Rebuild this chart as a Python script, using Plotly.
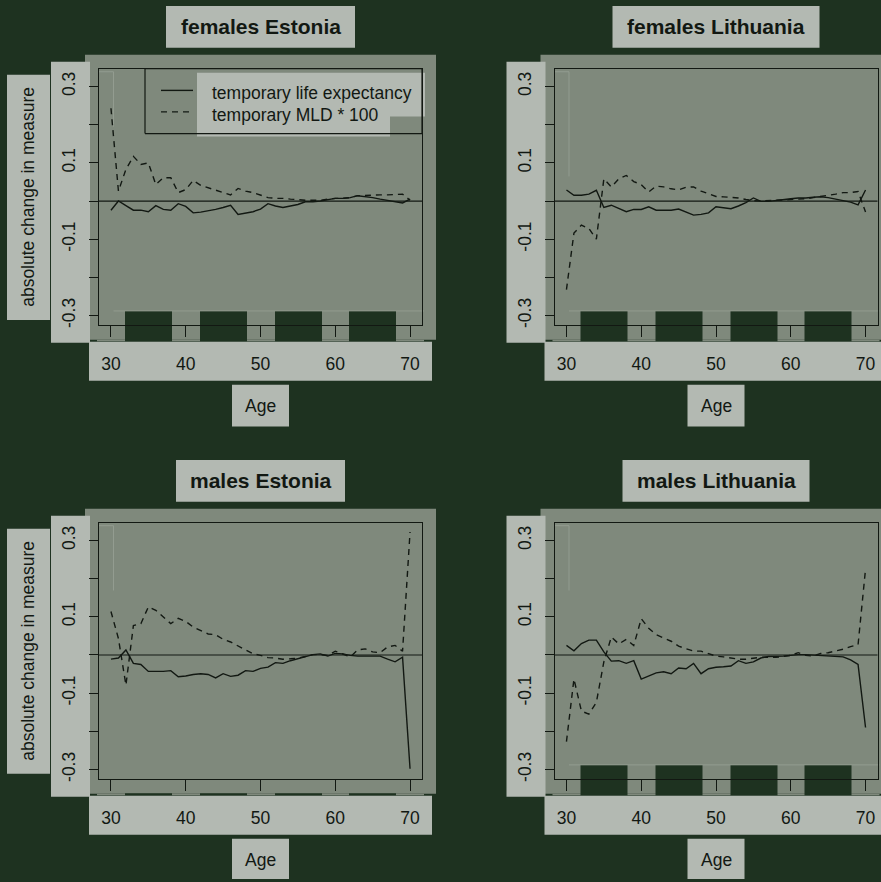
import plotly.graph_objects as go

W, H = 881, 882

# ---- data -------------------------------------------------------------
ages = list(range(30, 71))

x_ticks = [30, 40, 50, 60, 70]
y_ticks = [-0.3, -0.2, -0.1, 0.0, 0.1, 0.2, 0.3]
y_tick_text = ["-0.3", "", "-0.1", "", "0.1", "", "0.3"]

panel_titles = ["females Estonia", "females Lithuania", "males Estonia", "males Lithuania"]
legend_labels = ["temporary life expectancy", "temporary MLD * 100"]

f_est_le = [-0.024, 0.000, -0.012, -0.024, -0.024, -0.028, -0.012, -0.022, -0.024, -0.007,
            -0.014, -0.031, -0.029, -0.026, -0.022, -0.017, -0.011, -0.035, -0.031, -0.028,
            -0.021, -0.007, -0.013, -0.017, -0.013, -0.009, -0.002, -0.002, 0.000, 0.003,
            0.007, 0.007, 0.009, 0.014, 0.012, 0.009, 0.005, 0.002, -0.002, -0.005, 0.005]
f_est_mld = [0.243, 0.026, 0.083, 0.117, 0.096, 0.100, 0.043, 0.061, 0.061, 0.022,
             0.030, 0.054, 0.041, 0.035, 0.030, 0.024, 0.016, 0.033, 0.026, 0.022,
             0.015, 0.009, 0.007, 0.007, 0.005, 0.003, 0.002, 0.002, 0.002, 0.005,
             0.007, 0.007, 0.009, 0.014, 0.015, 0.016, 0.016, 0.016, 0.017, 0.018, 0.002]

f_lit_le = [0.029, 0.015, 0.015, 0.018, 0.028, -0.017, -0.011, -0.020, -0.028, -0.022,
            -0.022, -0.015, -0.024, -0.024, -0.024, -0.021, -0.030, -0.037, -0.035, -0.031,
            -0.015, -0.017, -0.020, -0.013, -0.004, 0.008, -0.001, -0.001, 0.002, 0.004,
            0.006, 0.008, 0.008, 0.010, 0.011, 0.009, 0.004, 0.001, -0.003, -0.010, 0.029]
f_lit_mld = [-0.232, -0.084, -0.063, -0.072, -0.100, 0.058, 0.037, 0.058, 0.067, 0.051,
             0.043, 0.024, 0.039, 0.037, 0.032, 0.029, 0.036, 0.037, 0.026, 0.020,
             0.012, 0.011, 0.010, 0.008, 0.004, 0.001, 0.000, 0.001, 0.002, 0.003,
             0.003, 0.004, 0.006, 0.009, 0.011, 0.015, 0.018, 0.022, 0.022, 0.025, -0.029]

m_est_le = [-0.011, -0.008, 0.013, -0.022, -0.025, -0.043, -0.043, -0.043, -0.041, -0.057,
            -0.055, -0.051, -0.049, -0.051, -0.060, -0.049, -0.056, -0.053, -0.041, -0.043,
            -0.035, -0.032, -0.020, -0.022, -0.015, -0.010, -0.003, 0.001, 0.003, -0.003,
            0.004, 0.003, -0.001, -0.003, -0.003, -0.003, -0.003, -0.011, -0.018, -0.006, -0.298]
m_est_mld = [0.114, 0.043, -0.079, 0.077, 0.082, 0.126, 0.117, 0.099, 0.082, 0.096,
             0.088, 0.073, 0.064, 0.055, 0.053, 0.041, 0.034, 0.023, 0.012, 0.003,
             -0.001, -0.007, -0.008, -0.011, -0.010, -0.008, -0.004, 0.001, 0.001, -0.001,
             0.010, 0.003, -0.005, 0.013, 0.016, 0.008, 0.006, 0.021, 0.025, 0.010, 0.322]

m_lit_le = [0.025, 0.011, 0.030, 0.039, 0.039, 0.008, -0.016, -0.015, -0.022, -0.015,
            -0.063, -0.055, -0.047, -0.044, -0.049, -0.034, -0.036, -0.022, -0.049, -0.036,
            -0.032, -0.031, -0.029, -0.015, -0.022, -0.018, -0.008, -0.004, -0.004, -0.003,
            -0.001, 0.001, 0.001, 0.000, -0.001, -0.003, -0.004, -0.005, -0.013, -0.025, -0.190]
m_lit_mld = [-0.227, -0.063, -0.147, -0.155, -0.124, -0.018, 0.047, 0.029, 0.041, 0.025,
             0.095, 0.070, 0.053, 0.044, 0.036, 0.023, 0.016, 0.010, 0.010, 0.003,
             -0.003, -0.005, -0.008, -0.011, -0.011, -0.008, -0.006, -0.006, -0.006, -0.004,
             -0.001, 0.006, -0.001, -0.003, 0.004, 0.006, 0.010, 0.015, 0.022, 0.027, 0.225]

le_series = [f_est_le, f_lit_le, m_est_le, m_lit_le]
mld_series = [f_est_mld, f_lit_mld, m_est_mld, m_lit_mld]

# ---- styling ------------------------------------------------------------
BG = "#1e3220"
MID = "#7f897c"
LIGHT = "#b3b9b2"
FAINT = "#98a195"
INK = "#121812"
FONT = "Liberation Sans, Arial, Helvetica, sans-serif"

X_RANGE = [28.4, 71.6]
Y_RANGE = [-0.3245, 0.3465]

# pixel layout of a single panel (top-left); other panels are shifted copies
OFF = 455.5
FRAME = (99, 69, 422, 326)           # x0, y0, x1, y1


def px_x(v):
    return v / W


def px_y(v):
    return 1 - v / H


def rect(x0, y0, x1, y1, color):
    x1 = min(x1, W)
    y1 = min(y1, H)
    return dict(type="rect", xref="paper", yref="paper", layer="below",
                x0=px_x(x0), x1=px_x(x1), y0=px_y(y1), y1=px_y(y0),
                fillcolor=color, line_width=0)


def seg(x0, y0, x1, y1, color, width=1.0, dash="solid"):
    return dict(type="line", xref="paper", yref="paper", layer="below",
                x0=px_x(x0), x1=px_x(x1), y0=px_y(y0), y1=px_y(y1),
                line=dict(color=color, width=width, dash=dash))


def text(x, y, s, size=17.5, bold=False, angle=0, xanchor="center"):
    return dict(xref="paper", yref="paper", x=px_x(x), y=px_y(y), text=f"<b>{s}</b>" if bold else s,
                showarrow=False, textangle=angle, xanchor=xanchor, yanchor="middle",
                font=dict(family=FONT, size=size, color=INK))


fig = go.Figure()
shapes = []
annotations = []

title_half = [94.5, 103.5, 84.5, 93.5]

for i in range(4):
    col, row = i % 2, i // 2
    dx, dy = col * OFF, row * OFF
    fx0, fy0, fx1, fy1 = FRAME[0] + dx, FRAME[1] + dy, FRAME[2] + dx, FRAME[3] + dy
    cx = (fx0 + fx1) / 2

    # panel backdrop and label boxes
    shapes.append(rect(85 + dx, 55 + dy, 436 + dx, 341 + dy, MID))
    shapes.append(rect(97 + dx, 341 + dy, 424 + dx, 342.5 + dy, MID))
    shapes.append(rect(51 + dx, 62 + dy, 90 + dx, 344 + dy, LIGHT))
    shapes.append(rect(89 + dx, 343 + dy, 432 + dx, 382 + dy, LIGHT))
    shapes.append(rect(cx - 28.5, 386 + dy, cx + 28.5, 428 + dy, LIGHT))
    shapes.append(rect(cx - title_half[i], 6 + dy, cx + title_half[i], 48 + dy, LIGHT))
    if col == 0:
        shapes.append(rect(7, 75 + dy, 50, 321 + dy, LIGHT))

    # background showing through along the bottom of the panel
    strip_top = 312 if i != 2 else 340.5
    for bx in (125, 200, 275, 349):
        shapes.append(rect(bx + dx, strip_top + dy, bx + 47 + dx, 342.5 + dy, BG))

    # faint guide lines
    vlen = 127 if i == 0 else (177 if i == 1 else 137)
    shapes.append(seg(99 + dx, 72 + dy, 113.5 + dx, 72 + dy, FAINT, 0.8))
    shapes.append(seg(113.5 + dx, 72 + dy, 113.5 + dx, vlen + dy, FAINT, 0.8))
    if i != 2:
        shapes.append(seg(113.5 + dx, 312 + dy, 424 + dx, 312 + dy, FAINT, 0.8))

    # axes
    xa = "xaxis" if i == 0 else f"xaxis{i + 1}"
    ya = "yaxis" if i == 0 else f"yaxis{i + 1}"
    xr = "x" if i == 0 else f"x{i + 1}"
    yr = "y" if i == 0 else f"y{i + 1}"
    fig.update_layout(**{
        xa: dict(domain=[px_x(fx0), px_x(fx1)], range=X_RANGE, anchor=yr,
                 tickmode="array", tickvals=x_ticks, ticktext=[str(v) for v in x_ticks],
                 ticks="outside", ticklen=11, tickwidth=1, tickcolor=INK,
                 showline=True, mirror=True, linecolor=INK, linewidth=1,
                 showgrid=False, zeroline=False, ticklabelstandoff=12,
                 tickfont=dict(family=FONT, size=17.5, color=INK)),
        ya: dict(domain=[px_y(fy1), px_y(fy0)], range=Y_RANGE, anchor=xr,
                 tickmode="array", tickvals=y_ticks, ticktext=y_tick_text,
                 ticks="outside", ticklen=9, tickwidth=1, tickcolor=INK, tickangle=-90,
                 showline=True, mirror=True, linecolor=INK, linewidth=1,
                 showgrid=False, zeroline=False, ticklabelstandoff=7,
                 tickfont=dict(family=FONT, size=17.5, color=INK)),
    })

    # reference line at zero
    shapes.append(dict(type="line", xref=f"{xr} domain", yref=yr, x0=0, x1=1, y0=0, y1=0,
                       layer="above", line=dict(color=INK, width=1.2)))

    fig.add_trace(go.Scatter(x=ages, y=le_series[i], mode="lines", xaxis=xr, yaxis=yr,
                             line=dict(color=INK, width=1.4), showlegend=False,
                             name=legend_labels[0]))
    fig.add_trace(go.Scatter(x=ages, y=mld_series[i], mode="lines", xaxis=xr, yaxis=yr,
                             line=dict(color=INK, width=1.4, dash="6px,5px"), showlegend=False,
                             name=legend_labels[1]))

    annotations.append(text(cx, 27 + dy, panel_titles[i], size=21, bold=True))
    annotations.append(text(cx, 407 + dy, "Age"))
    if col == 0:
        annotations.append(text(28.5, 198 + dy, "absolute change in measure", angle=-90))

# legend in the first panel
shapes.append(rect(197, 73, 390, 137, LIGHT))
shapes.append(rect(390, 73, 425, 117, LIGHT))
for (x0, y0, x1, y1) in [(145, 69, 422, 69), (145, 69, 145, 134), (145, 134, 422, 134), (422, 69, 422, 134)]:
    shapes.append(seg(x0, y0, x1, y1, INK, 1.2))
shapes.append(seg(161, 90.7, 193, 90.7, INK, 1.4))
shapes.append(seg(161, 112.3, 193, 112.3, INK, 1.4, dash="6px,5px"))
annotations.append(text(210, 93, legend_labels[0], xanchor="left"))
annotations.append(text(210, 115, legend_labels[1], xanchor="left"))

fig.update_layout(
    width=W, height=H,
    margin=dict(l=0, r=0, t=0, b=0),
    paper_bgcolor=BG, plot_bgcolor="rgba(0,0,0,0)",
    shapes=shapes, annotations=annotations,
    showlegend=False,
    font=dict(family=FONT, color=INK),
)

fig.write_html("out.html")
